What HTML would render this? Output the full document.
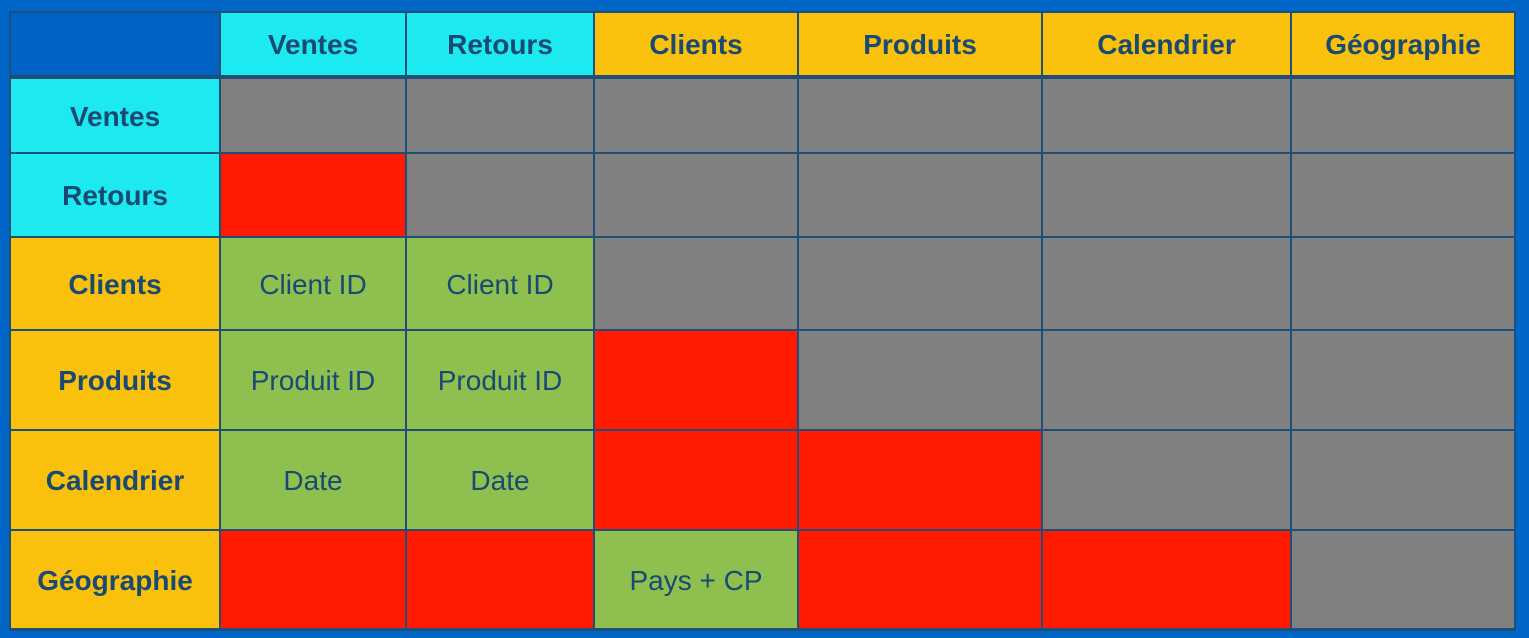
<!DOCTYPE html><html><head><style>
body{margin:0;width:1529px;height:638px;background:#0066c8;position:relative;overflow:hidden;font-family:"Liberation Sans",Arial,sans-serif}
.c{position:absolute;box-sizing:border-box;display:flex;align-items:center;justify-content:center;color:#184a74;font-size:28px;padding-top:2px;border:1px solid #1f4e79}
.b{font-weight:bold}
</style></head><body>
<div style="position:absolute;left:9px;top:11px;width:1507px;height:620px;background:#1f4e79"></div>
<script>
const X=[10,220,406,594,798,1042,1291,1515],Y=[12,76,153,237,330,430,530,629];
const C={c:'#1de9f0',y:'#f9c00c',g:'#808080',r:'#ff1a00',n:'#8fc04f',b:'#0062c2'};
const rows=[
[['b',''],['c','Ventes',1],['c','Retours',1],['y','Clients',1],['y','Produits',1],['y','Calendrier',1],['y','Géographie',1]],
[['c','Ventes',1],['g'],['g'],['g'],['g'],['g'],['g']],
[['c','Retours',1],['r'],['g'],['g'],['g'],['g'],['g']],
[['y','Clients',1],['n','Client ID'],['n','Client ID'],['g'],['g'],['g'],['g']],
[['y','Produits',1],['n','Produit ID'],['n','Produit ID'],['r'],['g'],['g'],['g']],
[['y','Calendrier',1],['n','Date'],['n','Date'],['r'],['r'],['g'],['g']],
[['y','Géographie',1],['r'],['r'],['n','Pays + CP'],['r'],['r'],['g']]];
let h='';
rows.forEach((r,i)=>r.forEach((c,j)=>{
let t=Y[i]+(i==1?2:0);
h+=`<div class="c${c[2]?' b':''}" style="left:${X[j]}px;top:${t}px;width:${X[j+1]-X[j]}px;height:${Y[i+1]-t}px;background:${C[c[0]]}">${c[1]||''}</div>`;}));
document.write(h);
</script>
</body></html>
